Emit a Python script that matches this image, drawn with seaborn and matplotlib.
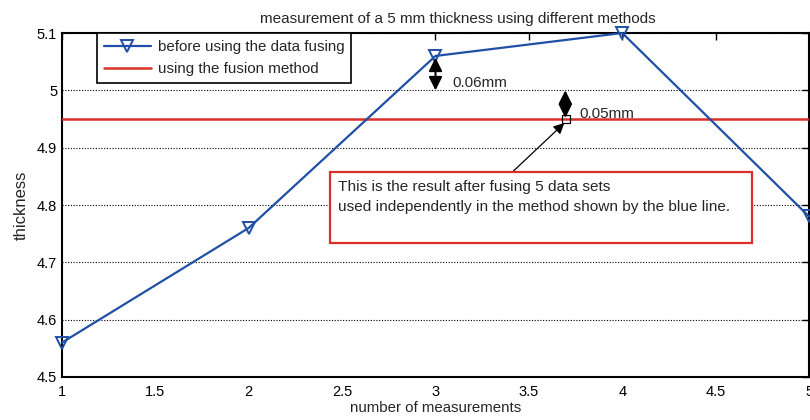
import matplotlib
matplotlib.use("Agg")
import matplotlib.pyplot as plt
import seaborn as sns
import pandas as pd
from matplotlib.patches import Rectangle

# Data
measurements = [1, 2, 3, 4, 5]
thickness_before = [4.56, 4.76, 5.06, 5.10, 4.78]
fusion_value = 4.95
x_ticks = [1, 1.5, 2, 2.5, 3, 3.5, 4, 4.5, 5]
y_ticks = [4.5, 4.6, 4.7, 4.8, 4.9, 5.0, 5.1]
y_ticklabels = ["4.5", "4.6", "4.7", "4.8", "4.9", "5", "5.1"]

sns.set_style("white")
plt.rcParams['font.family'] = ['Liberation Sans', 'DejaVu Sans']

BLUE = "#1f4fa6"
RED = "#d9302a"

fig = plt.figure(figsize=(8.1, 4.2), dpi=100)
ax = fig.add_axes([0.0765, 0.1024, 0.9223, 0.819])

df = pd.DataFrame({"n": measurements, "t": thickness_before})
sns.lineplot(data=df, x="n", y="t", ax=ax, color=BLUE, lw=1.6,
             marker="v", markersize=9, markerfacecolor="none",
             markeredgecolor=BLUE, markeredgewidth=1.4,
             label="before using the data fusing", clip_on=False, zorder=5)
ax.axhline(fusion_value, color=RED, lw=1.8, label="using the fusion method", zorder=4)

ax.set_xlim(1, 5)
ax.set_ylim(4.5, 5.1)
ax.set_xticks(x_ticks)
ax.set_xticklabels([f"{v:g}" for v in x_ticks])
ax.set_yticks(y_ticks)
ax.set_yticklabels(y_ticklabels)
ax.tick_params(direction="in", length=5, width=1, top=True, right=True,
               labelsize=10.5, colors="black")
ax.tick_params(axis="x", pad=6)
ax.yaxis.grid(True, linestyle=(0, (1, 1.5)), color="black", lw=0.8)
ax.xaxis.grid(False)
for s in ax.spines.values():
    s.set_color("black")
    s.set_linewidth(1.5)

ax.set_title("measurement of a 5 mm thickness using different methods",
             fontsize=11, pad=7, x=0.53)
ax.set_xlabel("number of measurements", fontsize=10.8, labelpad=1)
ax.set_ylabel("thickness", fontsize=12, labelpad=6)

leg = ax.legend(loc="upper left", bbox_to_anchor=(0.047, 1.0), borderaxespad=0,
                fancybox=False, framealpha=1, edgecolor="black", fontsize=10.9,
                handlelength=3.1, borderpad=0.45, labelspacing=0.55,
                handletextpad=0.45)
leg.get_frame().set_linewidth(1.2)

# Double arrows
ax.annotate("", xy=(3, 5.0), xytext=(3, 5.057),
            arrowprops=dict(arrowstyle="<|-|>", color="black", lw=1.5,
                            mutation_scale=20, shrinkA=0, shrinkB=0), zorder=6)
ax.text(3.09, 5.012, "0.06mm", fontsize=11, va="center", ha="left")
ax.annotate("", xy=(3.695, 4.952), xytext=(3.695, 5.0),
            arrowprops=dict(arrowstyle="<|-|>", color="black", lw=1.5,
                            mutation_scale=20, shrinkA=0, shrinkB=0), zorder=6)
ax.text(3.77, 4.958, "0.05mm", fontsize=11, va="center", ha="left")
ax.plot([3.7], [fusion_value], marker="s", markersize=6, markerfacecolor="none",
        markeredgecolor="black", markeredgewidth=0.9, zorder=7)

# Pointer arrow from box
ax.annotate("", xy=(3.69, 4.943), xytext=(3.41, 4.857),
            arrowprops=dict(arrowstyle="-|>", color="black", lw=0.9,
                            mutation_scale=16, shrinkA=0, shrinkB=0), zorder=6)

# Text box
rect = Rectangle((2.435, 4.733), 4.695 - 2.435, 4.857 - 4.733,
                 facecolor="white", edgecolor=RED, lw=1.6, zorder=6)
ax.add_patch(rect)
ax.text(2.478, 4.831, "This is the result after fusing 5 data sets",
        fontsize=11.1, va="center", ha="left", zorder=7)
ax.text(2.478, 4.796, "used independently in the method shown by the blue line.",
        fontsize=11.1, va="center", ha="left", zorder=7)

fig.savefig("out.png", dpi=100)
